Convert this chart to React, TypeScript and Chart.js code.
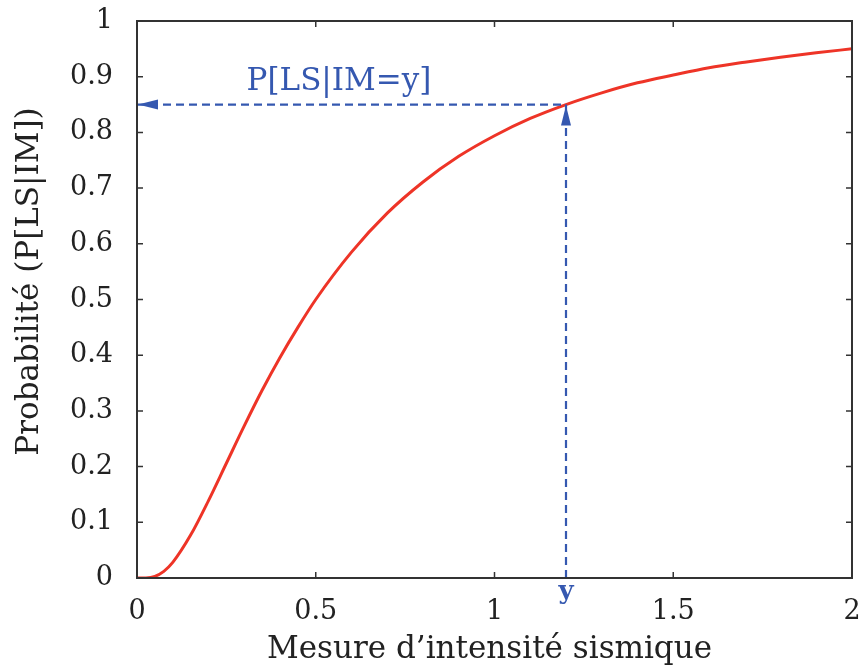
import React, { useEffect, useRef } from "react";
import { Chart, registerables } from "chart.js";

Chart.register(...registerables);

// Fragility curve
const imValues = [0, 0.025, 0.05, 0.075, 0.1, 0.15, 0.2, 0.25, 0.3, 0.35, 0.4, 0.45, 0.5, 0.6, 0.7, 0.8, 0.9, 1.0, 1.1, 1.2, 1.3, 1.4, 1.5, 1.6, 1.7, 1.8, 1.9, 2.0];
const probValues = [0, 0.0002, 0.003, 0.012, 0.028, 0.077, 0.139, 0.206, 0.273, 0.337, 0.396, 0.45, 0.5, 0.585, 0.655, 0.711, 0.757, 0.794, 0.825, 0.85, 0.871, 0.889, 0.903, 0.916, 0.926, 0.935, 0.943, 0.95];

// Marked point
const markIM = 1.2;
const markP = 0.85;

const xTicks = [0, 0.5, 1, 1.5, 2];
const yTicks = [0, 0.1, 0.2, 0.3, 0.4, 0.5, 0.6, 0.7, 0.8, 0.9, 1];

const xTitle = "Mesure d\u2019intensit\u00e9 sismique";
const yTitle = "Probabilit\u00e9 (P[LS|IM])";
const probLabel = "P[LS|IM=y]";
const imLabel = "y";
const probLabelAt = { x: 0.565, y: 0.89 };

const RED = "#ee3427";
const BLUE = "#3558b0";
const FRAME = "#333333";
const FONT = "'DejaVu Serif', serif";

const fmt = (v: number) => String(v);

const decorPlugin = {
  id: "decor",
  afterDatasetsDraw(chart: any) {
    const { ctx, chartArea, scales } = chart;
    const xs = scales.x;
    const ys = scales.y;
    ctx.save();
    // frame
    ctx.strokeStyle = FRAME;
    ctx.lineWidth = 2;
    ctx.strokeRect(chartArea.left, chartArea.top, chartArea.right - chartArea.left, chartArea.bottom - chartArea.top);
    // inward ticks
    ctx.lineWidth = 1.5;
    const tl = 6;
    ctx.beginPath();
    xTicks.forEach((v) => {
      const px = xs.getPixelForValue(v);
      ctx.moveTo(px, chartArea.bottom);
      ctx.lineTo(px, chartArea.bottom - tl);
      ctx.moveTo(px, chartArea.top);
      ctx.lineTo(px, chartArea.top + tl);
    });
    yTicks.forEach((v) => {
      const py = ys.getPixelForValue(v);
      ctx.moveTo(chartArea.left, py);
      ctx.lineTo(chartArea.left + tl, py);
      ctx.moveTo(chartArea.right, py);
      ctx.lineTo(chartArea.right - tl, py);
    });
    ctx.stroke();

    // arrowheads
    ctx.fillStyle = BLUE;
    const hx0 = xs.getPixelForValue(0);
    const hy = ys.getPixelForValue(markP);
    ctx.beginPath();
    ctx.moveTo(hx0 + 1, hy);
    ctx.lineTo(hx0 + 21, hy - 5);
    ctx.lineTo(hx0 + 21, hy + 5);
    ctx.closePath();
    ctx.fill();
    const vx = xs.getPixelForValue(markIM);
    ctx.beginPath();
    ctx.moveTo(vx, hy + 1);
    ctx.lineTo(vx - 5, hy + 21);
    ctx.lineTo(vx + 5, hy + 21);
    ctx.closePath();
    ctx.fill();

    // annotation labels
    ctx.fillStyle = BLUE;
    ctx.textAlign = "center";
    ctx.textBaseline = "middle";
    ctx.font = `31px ${FONT}`;
    ctx.fillText(probLabel, xs.getPixelForValue(probLabelAt.x), ys.getPixelForValue(probLabelAt.y));
    ctx.font = `bold 26px ${FONT}`;
    ctx.fillText(imLabel, vx, chartArea.bottom + 14);

    // axis titles
    ctx.fillStyle = "#222222";
    ctx.font = `31px ${FONT}`;
    ctx.fillText(xTitle, (chartArea.left + chartArea.right) / 2 - 5, 650);
    ctx.save();
    ctx.translate(30, (chartArea.top + chartArea.bottom) / 2 - 18);
    ctx.rotate(-Math.PI / 2);
    ctx.fillText(yTitle, 0, 0);
    ctx.restore();
    ctx.restore();
  },
};

export default function App() {
  const ref = useRef<HTMLCanvasElement | null>(null);
  useEffect(() => {
    if (!ref.current) return;
    const chart = new Chart(ref.current, {
      type: "line",
      data: {
        datasets: [
          {
            data: [
              { x: 0, y: markP },
              { x: markIM, y: markP },
            ],
            borderColor: BLUE,
            borderWidth: 2.2,
            borderDash: [8, 5],
            pointRadius: 0,
          },
          {
            data: [
              { x: markIM, y: 0 },
              { x: markIM, y: markP },
            ],
            borderColor: BLUE,
            borderWidth: 2.2,
            borderDash: [8, 5],
            pointRadius: 0,
          },
          {
            data: imValues.map((x, i) => ({ x, y: probValues[i] })),
            borderColor: RED,
            borderWidth: 3,
            pointRadius: 0,
            cubicInterpolationMode: "monotone",
          },
        ],
      },
      options: {
        responsive: false,
        animation: false,
        layout: { padding: { left: 0, top: 21, right: 9, bottom: 0 } },
        plugins: { legend: { display: false }, tooltip: { enabled: false } },
        scales: {
          x: {
            type: "linear",
            min: 0,
            max: 2,
            afterFit: (s: any) => {
              s.height = 89;
              s.paddingLeft = 0;
              s.paddingRight = 0;
            },
            afterBuildTicks: (s: any) => {
              s.ticks = xTicks.map((v) => ({ value: v }));
            },
            grid: { display: false, drawTicks: false },
            border: { display: false },
            ticks: {
              padding: 18,
              color: "#222222",
              font: { family: FONT, size: 27 },
              maxRotation: 0,
              callback: (v: any) => fmt(Number(v)),
            },
          },
          y: {
            type: "linear",
            min: 0,
            max: 1,
            afterFit: (s: any) => {
              s.width = 137;
              s.paddingTop = 0;
              s.paddingBottom = 0;
            },
            afterBuildTicks: (s: any) => {
              s.ticks = yTicks.map((v) => ({ value: v }));
            },
            grid: { display: false, drawTicks: false },
            border: { display: false },
            ticks: {
              padding: 24,
              color: "#222222",
              font: { family: FONT, size: 27 },
              callback: (v: any) => fmt(Number(v)),
            },
          },
        },
      },
      plugins: [decorPlugin],
    });
    return () => chart.destroy();
  }, []);
  return (
    <div style={{ position: "absolute", left: 0, top: 0, width: 861, height: 667, background: "#fff" }}>
      <canvas ref={ref} width={861} height={667} />
    </div>
  );
}
